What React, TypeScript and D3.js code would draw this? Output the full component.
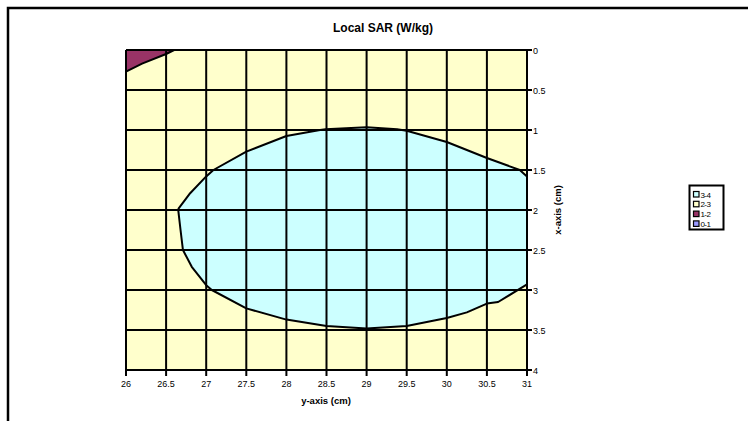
import React from "react";
import * as d3 from "d3";

const xTicks = [26, 26.5, 27, 27.5, 28, 28.5, 29, 29.5, 30, 30.5, 31];
const yTicks = [0, 0.5, 1, 1.5, 2, 2.5, 3, 3.5, 4];

// 3-4 region (cyan) boundary, [y-axis cm, x-axis cm]
const region34: [number, number][] = [
  [26.65, 1.99], [26.8, 1.79], [27.0, 1.58], [27.09, 1.5], [27.5, 1.27],
  [28.0, 1.075], [28.42, 1.0], [28.49, 0.99], [29.0, 0.966], [29.38, 0.99],
  [29.5, 1.01], [30.0, 1.15], [30.5, 1.35], [30.91, 1.5], [31.0, 1.58],
  [31.0, 2.93], [30.64, 3.15], [30.5, 3.17], [30.25, 3.28], [30.0, 3.35],
  [29.5, 3.45], [29.0, 3.48], [28.5, 3.45], [28.0, 3.37], [27.5, 3.23],
  [27.07, 3.0], [27.0, 2.94], [26.82, 2.71], [26.71, 2.5], [26.68, 2.25],
];
// 1-2 region (maroon) corner
const region12: [number, number][] = [
  [26.0, 0.0], [26.0, 0.27], [26.2, 0.17], [26.5, 0.05], [26.6, 0.0],
];

const legendLabels = ["3-4", "2-3", "1-2", "0-1"];
const legendColors = ["#CCFFFF", "#FFFFCC", "#993366", "#9999FF"];

export default function App() {
  const W = 748, H = 421;
  const x = d3.scaleLinear().domain([26, 31]).range([126, 527]);
  const y = d3.scaleLinear().domain([0, 4]).range([50, 370]);
  const line = d3.line<[number, number]>().x(d => x(d[0])).y(d => y(d[1]));
  const font = "'Liberation Sans', Arial, sans-serif";

  // open boundary (omit right edge segment along x=31 for stroke)
  const idx31a = region34.findIndex(p => p[0] === 31);
  const stroke34a = region34.slice(0, idx31a + 1);
  const stroke34b = region34.slice(idx31a + 1).concat([region34[0]]);
  const stroke12 = region12.slice(1);

  return (
    <svg width={W} height={H} style={{ position: "absolute", left: 0, top: 0 }} fontFamily={font}>
      <rect x={0} y={0} width={W} height={H} fill="#fff" />
      <rect x={8} y={8} width={W + 20} height={H + 20} fill="none" stroke="#000" strokeWidth={2.5} />
      <text x={383} y={32} textAnchor="middle" fontSize={12} fontWeight="bold">Local SAR (W/kg)</text>

      <rect x={x(26)} y={y(0)} width={x(31) - x(26)} height={y(4) - y(0)} fill="#FFFFCC" />
      <path d={line(region34) + "Z"} fill="#CCFFFF" />
      <path d={line(region12) + "Z"} fill="#993366" />

      {xTicks.map(t => (
        <line key={"gx" + t} x1={x(t)} x2={x(t)} y1={y(0)} y2={y(4)} stroke="#000" strokeWidth={2} />
      ))}
      {yTicks.map(t => (
        <line key={"gy" + t} x1={x(26)} x2={x(31)} y1={y(t)} y2={y(t)} stroke="#000" strokeWidth={2} />
      ))}

      <path d={line(stroke34a) || ""} fill="none" stroke="#000" strokeWidth={2} strokeLinejoin="round" />
      <path d={line(stroke34b) || ""} fill="none" stroke="#000" strokeWidth={2} strokeLinejoin="round" />
      <path d={line(stroke12) || ""} fill="none" stroke="#000" strokeWidth={2} strokeLinejoin="round" />

      {yTicks.map(t => (
        <g key={"ty" + t}>
          <line x1={x(31)} x2={x(31) + 5} y1={y(t)} y2={y(t)} stroke="#000" strokeWidth={2} />
          <text x={x(31) + 6} y={y(t) + 3.5} fontSize={9} fill="#000">{String(t)}</text>
        </g>
      ))}
      {xTicks.map(t => (
        <g key={"tx" + t}>
          <line x1={x(t)} x2={x(t)} y1={y(4)} y2={y(4) + 6} stroke="#000" strokeWidth={2} />
          <text x={x(t)} y={y(4) + 17} fontSize={9} textAnchor="middle" fill="#000">{String(t)}</text>
        </g>
      ))}
      <text x={326} y={404} textAnchor="middle" fontSize={9.5} fontWeight="bold">y-axis (cm)</text>
      <text transform={`translate(561,210) rotate(-90)`} textAnchor="middle" fontSize={9.5} fontWeight="bold">x-axis (cm)</text>

      <rect x={689.5} y={185.5} width={34} height={44} fill="#fff" stroke="#000" strokeWidth={2} />
      {legendLabels.map((l, i) => (
        <g key={l}>
          <rect x={693.5} y={191.5 + i * 9.8} width={5.5} height={5.5} fill={legendColors[i]} stroke="#000" strokeWidth={1.2} />
          <text x={700.5} y={197.5 + i * 9.8} fontSize={8} letterSpacing={-0.6} fill="#000">{l}</text>
        </g>
      ))}
    </svg>
  );
}
